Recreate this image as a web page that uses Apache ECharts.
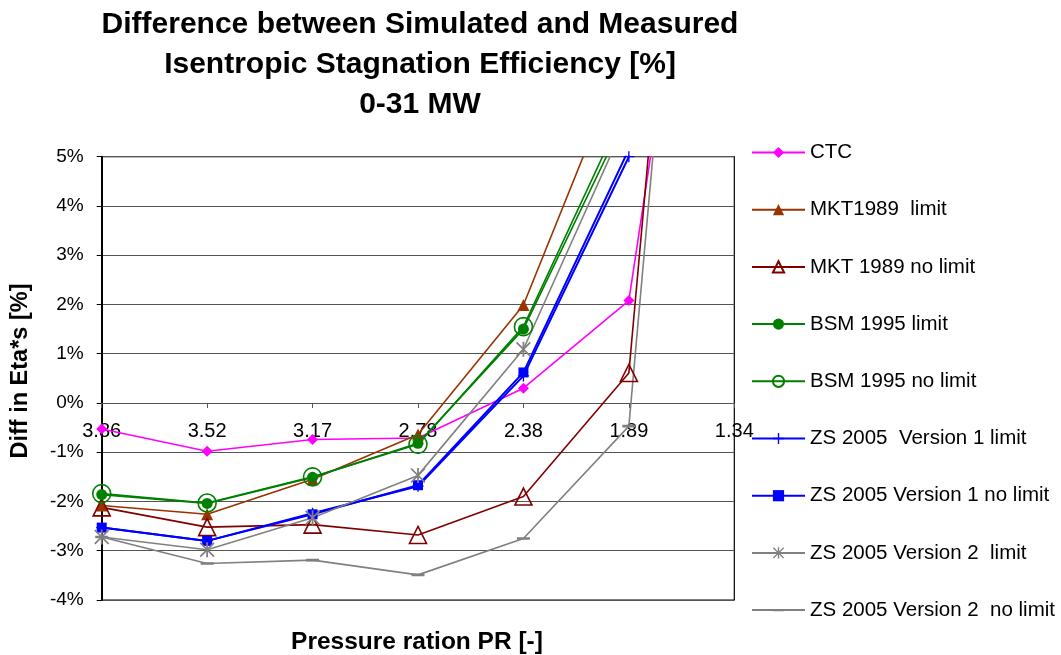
<!DOCTYPE html>
<html>
<head>
<meta charset="utf-8">
<script src="https://cdn.jsdelivr.net/npm/echarts@6/dist/echarts.min.js"></script>
<style>
  html, body { margin: 0; padding: 0; background: #fff; }
  #chart { width: 1061px; height: 655px; }
</style>
</head>
<body>
<div id="chart"></div>
<script>
// Pressure ratio categories (x axis, descending PR)
var categories = ['3.86', '3.52', '3.17', '2.78', '2.38', '1.89', '1.34'];

// Difference between simulated and measured efficiency, in %
var ctc           = [-0.53, -0.98, -0.74, -0.71,  0.30,  2.08, 16.3];
var mkt89Limit    = [-2.08, -2.26, -1.55, -0.64,  1.99,  7.30, 18.0];
var mkt89NoLimit  = [-2.12, -2.52, -2.47, -2.68, -1.90,  0.61, 24.5];
var bsm95Limit    = [-1.86, -2.04, -1.51, -0.82,  1.50,  5.95, 17.0];
var bsm95NoLimit  = [-1.84, -2.03, -1.50, -0.84,  1.55,  6.15, 17.0];
var zs05V1Limit   = [-2.53, -2.80, -2.24, -1.69,  0.55,  5.00, 20.0];
var zs05V1NoLimit = [-2.53, -2.80, -2.26, -1.67,  0.62,  5.15, 20.0];
var zs05V2Limit   = [-2.72, -2.98, -2.33, -1.47,  1.09,  5.85, 18.0];
var zs05V2NoLimit = [-2.72, -3.26, -3.19, -3.49, -2.75, -0.47, 23.6];

var seriesNames = [
  'CTC',
  'MKT1989  limit',
  'MKT 1989 no limit',
  'BSM 1995 limit',
  'BSM 1995 no limit',
  'ZS 2005  Version 1 limit',
  'ZS 2005 Version 1 no limit',
  'ZS 2005 Version 2  limit',
  'ZS 2005 Version 2  no limit'
];

// value axis range (%)
var yMin = -4, yMax = 5, yStep = 1;

// plot area
var gridTop = 156.7, gridBottom = 55, chartHeight = 655;
var gridHeight = chartHeight - gridTop - gridBottom;
// the category axis sits on the 0 % line
var zeroOffset = -gridHeight * (0 - yMin) / (yMax - yMin);

// custom marker shapes (square boxes so legend icons keep their look)
var plusPath = 'path://M4.4,0 H5.6 V4.4 H10 V5.6 H5.6 V10 H4.4 V5.6 H0 V4.4 H4.4 Z';
var starPath = 'path://M4.4,0 H5.6 V10 H4.4 Z M0.8,0 L10,9.2 L9.2,10 L0,0.8 Z M9.2,0 L10,0.8 L0.8,10 L0,9.2 Z';
var dashPath = 'path://M0,4.8 H12 V7.2 H0 Z M6,0 L6.01,0 L6,0.01 Z M6,12 L6.01,12 L6,11.99 Z';

function lineSeries(name, data, color, symbol, size, item, width) {
  return {
    name: name,
    type: 'line',
    data: data,
    symbol: symbol,
    symbolSize: size,
    clip: true,
    lineStyle: { color: color, width: width || 1.6 },
    itemStyle: item || { color: color },
    emphasis: { disabled: true }
  };
}

var chart = echarts.init(document.getElementById('chart'), null, { renderer: 'canvas' });

chart.setOption({
  animation: false,
  backgroundColor: '#fff',
  textStyle: { fontFamily: 'Liberation Sans, Arial, sans-serif' },
  title: [
    {
      text: 'Difference between Simulated and Measured\nIsentropic Stagnation Efficiency [%]\n0-31 MW',
      left: 420,
      top: 5,
      padding: 0,
      textAlign: 'center',
      textStyle: { fontSize: 30, fontWeight: 'bold', color: '#000', lineHeight: 40 }
    },
    {
      text: 'Pressure ration PR [-]',
      left: 417,
      top: 629,
      padding: 0,
      textAlign: 'center',
      textStyle: { fontSize: 24.5, fontWeight: 'bold', color: '#000', lineHeight: 26 }
    }
  ],
  graphic: [
    {
      type: 'text',
      x: 21,
      y: 371,
      rotation: Math.PI / 2,
      silent: true,
      style: {
        text: 'Diff in Eta*s [%]',
        fill: '#000',
        font: 'bold 23.5px "Liberation Sans", Arial, sans-serif',
        align: 'center',
        verticalAlign: 'middle'
      }
    }
  ],
  legend: {
    orient: 'vertical',
    left: 751,
    top: 142,
    padding: 0,
    itemWidth: 53,
    itemHeight: 14,
    itemGap: 36.2,
    data: seriesNames,
    textStyle: { fontSize: 20.5, color: '#000', lineHeight: 20 }
  },
  grid: {
    left: 101.7,
    right: 326.7,
    top: gridTop,
    bottom: gridBottom,
    show: true,
    borderColor: '#000',
    borderWidth: 1.2,
    containLabel: false
  },
  xAxis: {
    type: 'category',
    data: categories,
    boundaryGap: false,
    offset: zeroOffset,
    axisLine: { onZero: false, lineStyle: { color: '#555', width: 1 } },
    axisTick: { show: true, length: 5, lineStyle: { color: '#555' } },
    axisLabel: { fontSize: 20, color: '#000', margin: 19 },
    splitLine: { show: false }
  },
  yAxis: {
    type: 'value',
    min: yMin,
    max: yMax,
    interval: yStep,
    axisLine: { show: true, lineStyle: { color: '#000', width: 2 } },
    axisTick: { show: true, length: 5, lineStyle: { color: '#000' } },
    axisLabel: { fontSize: 19, color: '#000', margin: 18, formatter: '{value}%' },
    splitLine: { show: true, lineStyle: { color: '#555', width: 1 } }
  },
  series: [
    lineSeries(seriesNames[0], ctc, '#FF00FF', 'diamond', 11),
    lineSeries(seriesNames[1], mkt89Limit, '#993300', 'triangle', 12),
    lineSeries(seriesNames[2], mkt89NoLimit, '#800000', 'triangle', 17,
      { color: 'rgba(255,255,255,0)', borderColor: '#800000', borderWidth: 1.6 }),
    lineSeries(seriesNames[3], bsm95Limit, '#008000', 'circle', 11),
    lineSeries(seriesNames[4], bsm95NoLimit, '#008000', 'circle', 18,
      { color: 'rgba(255,255,255,0)', borderColor: '#008000', borderWidth: 1.6 }),
    lineSeries(seriesNames[5], zs05V1Limit, '#0000FF', plusPath, 11, null, 2),
    lineSeries(seriesNames[6], zs05V1NoLimit, '#0000FF', 'rect', 10, null, 2),
    lineSeries(seriesNames[7], zs05V2Limit, '#808080', starPath, 15),
    lineSeries(seriesNames[8], zs05V2NoLimit, '#808080', dashPath, 13)
  ]
});
</script>
</body>
</html>
